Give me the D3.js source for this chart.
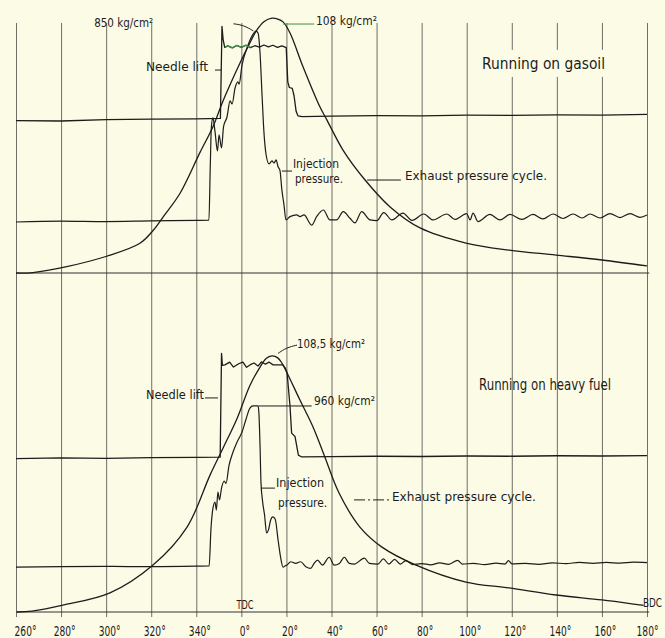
<!DOCTYPE html>
<html><head><meta charset="utf-8">
<script src="https://cdn.jsdelivr.net/npm/d3@7"></script>
<style>
html,body{margin:0;padding:0;background:#fcfbe6;}
svg{display:block;}
text{font-family:"Liberation Sans Narrow","DejaVu Sans Condensed","Roboto Condensed","DejaVu Sans",sans-serif;fill:#1c1c1c;}
</style></head><body>
<svg id="c" width="665" height="638"></svg>
<script>
// Crank angle (degrees relative to TDC; 260° = -100)
const tickDegrees = [-100,-80,-60,-40,-20,0,20,40,60,80,100,120,140,160,180];
const tickLabels = ["260°","280°","300°","320°","340°","0°","20°","40°","60°","80°","100°","120°","140°","160°","180°"];

// ---- Running on gasoil: [crank angle, trace height (kg/cm² scale units)]
const gasCylinder = [[-100,0],[-92.5,0.2],[-77.5,2.7],[-59.8,7.1],[-45,12.6],[-39.1,18.1],[-34.6,23.9],[-27.2,33.8],[-18.4,51],[-12.6,62],[-8.1,73],[-0.6,89],[3.5,97],[6.9,103],[10,106.5],[13.6,108],[16.2,107.6],[18.5,106.4],[21.6,101.7],[27.4,87.3],[34.9,70.3],[38,64.8],[45.1,52.1],[54.9,39.4],[66,28.0],[79.3,19.1],[99.7,12.7],[118.8,9.7],[139.6,7.6],[160,5.5],[180,3.0]];
const gasNeedle = [[-100,64.6],[-80,64.4],[-60,65.0],[-40,65.2],[-20,65.3],[-9.3,65.5],[-8.6,104.5],[-8.1,99],[-7.4,95.6],[-6,96.2],[-4,95.4],[-2,96.4],[0,95.6],[2,96.5],[4,95.5],[6,96.3],[8,95.7],[10,96.6],[12,95.8],[14,96.5],[16,95.6],[18,96.2],[19.9,95.5],[20.6,81],[21.3,78.6],[22.6,78.2],[23.4,75],[24.3,68.5],[25.1,66.6],[27,66.3],[40,66.5],[60,66.7],[80,66.6],[100,66.9],[120,66.8],[140,67.0],[160,66.9],[180,67.2]];
const gasInjection = [[-100,21.6],[-80,22.0],[-60,21.8],[-40,22.1],[-20,22.3],[-14.4,22.4],[-13.8,45],[-13.3,62],[-12.6,65.7],[-11.7,60],[-10.6,51.7],[-9.9,58.5],[-8.8,53],[-7.9,62],[-6.4,66],[-5.0,72.9],[-4.1,71.6],[-2.8,78.4],[-1.5,81],[-1.0,80],[0.3,88.1],[2.5,95.3],[4.7,100.4],[6.5,102.5],[7.4,101.7],[8.3,93],[9.2,75],[10.0,60],[11.0,50],[12.3,46.2],[13.6,47.5],[14.5,46.6],[15.4,47.9],[16.3,45],[17.1,43.6],[18.0,35],[18.9,29],[19.8,22.5],[21.6,23.9],[24.6,24.6],[26.0,23.9],[27.8,24.6],[31.2,20.3],[33.4,23.9],[36.4,26.7],[39.3,22.5],[42.3,22.5],[45.2,26.0],[48.2,23.2],[50.4,21.2],[53.4,26.0],[57.1,22.5],[60.1,22.2],[63.2,25.6],[66.8,22.5],[71.7,25.4],[75.7,22.3],[81.0,25.0],[85.0,22.5],[91.2,25.0],[94.8,22.7],[100.0,25.2],[101.5,22.5],[102.8,25.4],[105.0,21.8],[110.3,24.8],[114.8,22.5],[119.2,24.8],[124.5,22.7],[129.4,24.8],[133.8,22.9],[138.3,25.0],[142.7,23.1],[147.2,25.0],[151.2,23.3],[154.7,25.0],[159.2,23.3],[163.6,25.2],[168.0,23.5],[172.5,25.2],[176.9,23.6],[180,24.6]];

// ---- Running on heavy fuel
const hfCylinder = [[-99.6,0],[-92.9,0.4],[-78.7,3.0],[-58.3,8.1],[-39.2,19.9],[-24.1,36],[-13.9,58],[-8.1,69.5],[-1.9,82],[3.8,96],[8.3,103.8],[11,107.4],[13.6,108.5],[16,107.8],[18.0,105.5],[20.3,101.3],[26.0,89.8],[31.8,78.4],[37,65.8],[43.4,50.3],[52.6,36.0],[62.4,27.5],[77.5,19.9],[99.7,12.7],[118.8,10.2],[139.6,7.2],[160,5.1],[176.9,3.0],[178.5,2.8]];
const hfNeedle = [[-100,65.0],[-80,65.3],[-60,65.1],[-40,65.4],[-20,65.5],[-9.4,65.6],[-8.8,109.6],[-8.4,104.5],[-7.3,104.7],[-5.2,105.9],[-3.5,103.8],[-1.0,105.3],[0.7,105.9],[2.3,103.7],[4.0,104.8],[5.6,105.5],[7.4,104.2],[8.9,106],[10.7,105.0],[12.2,105.9],[14.1,104.7],[16.4,104.7],[18.4,104.7],[19.5,103.3],[20.3,101.3],[21.6,87.1],[22.3,75.8],[23.8,74.4],[25.3,66.5],[26.8,65.7],[40,65.8],[60,66.0],[80,65.9],[100,66.1],[120,66.0],[140,66.2],[160,66.1],[180,66.3]];
const hfInjection = [[-100,19.0],[-80,19.2],[-60,19.3],[-40,19.2],[-20,19.4],[-14.3,19.5],[-13.5,35],[-12.6,44],[-11.7,46.6],[-11.1,43.2],[-10.4,50.8],[-9.7,47.5],[-8.8,52.5],[-7.6,55.5],[-6.8,54.5],[-5.5,62],[-3.7,67.8],[-1.9,72],[0.3,76.3],[2.1,81.8],[3.8,86.4],[5.2,87.3],[7.4,87.3],[7.8,84],[8.3,70],[8.7,55],[9.4,47],[10.3,41],[11.2,33.5],[12.0,34.7],[13.0,39],[13.9,40.3],[15.0,39.4],[16.3,30.5],[17.4,23.3],[18.5,19.0],[19.5,19.6],[20.3,19.9],[21.9,21.3],[24.1,20.6],[26.3,21.3],[28.6,19.2],[30.8,18.5],[32.3,20.6],[33.8,22.0],[36.0,19.9],[39.0,23.2],[41.2,19.9],[43.5,20.6],[45.7,23.2],[47.9,20.6],[50.1,20.3],[54.6,22.8],[56.8,20.6],[60.6,20.3],[63.0,22.5],[65.5,20.3],[68.0,22.3],[70.5,20.3],[73.0,21.8],[76.0,20.1],[80,20.5],[84,20.0],[88,20.8],[92,20.2],[96,21.9],[98,20.3],[103,20.6],[108,20.1],[113,20.7],[117,20.3],[118.5,21.8],[120,20.4],[126,20.6],[132,20.2],[138,20.8],[144,20.5],[150,21.0],[156,20.6],[162,21.0],[168,20.7],[174,21.1],[180,20.9]];

// ---- annotations (text, crank angle, height)
const gasLabels = [
  {t:"850 kg/cm²", d:-65.3, v:106.4, len:59, size:13},
  {t:"108 kg/cm²", d:33.1, v:107.2, len:61, size:13},
  {t:"Needle lift", d:-42.3, v:87.3, len:62, size:12},
  {t:"Injection", d:22.9, v:46.3, len:46, size:11.5},
  {t:"pressure.", d:23.8, v:40.0, len:48, size:11.5},
  {t:"Exhaust pressure cycle.", d:72.6, v:41.5, len:142, size:13},
  {t:"Running on gasoil", d:106.8, v:89, len:123, size:16.5, title:true}
];
const hfLabels = [
  {t:"108,5 kg/cm²", d:24.7, v:114, len:68, size:13},
  {t:"Needle lift", d:-42.3, v:91.9, len:58, size:12},
  {t:"960 kg/cm²", d:32.2, v:89.8, len:61, size:13},
  {t:"Injection", d:15.4, v:54.9, len:48, size:12},
  {t:"pressure.", d:16.3, v:46.4, len:49, size:12},
  {t:"Exhaust pressure cycle.", d:66.8, v:49.2, len:144, size:13},
  {t:"Running on heavy fuel", d:105.5, v:96.6, len:132, size:16.5},
  {t:"TDC", d:-2.2, v:3.0, len:17, size:12},
  {t:"BDC", d:178.2, v:3.8, len:19, size:12}
];
const gasLeaders = [
  {p:[[-3.5,105.6],[1,105.0],[5.3,102.6]]},
  {p:[[18.5,105.5],[32.3,105.5]], green:true},
  {p:[[-11.7,86],[-9.0,86]]},
  {p:[[18.0,43.2],[22.5,43.2]]},
  {p:[[55.8,39.4],[70.8,39.4]]}
];
const hfLeaders = [
  {p:[[16.3,109.6],[20,112],[24.7,113.1]]},
  {p:[[-16.1,90.7],[-10.4,90.7]]},
  {p:[[7.6,87.3],[31.2,87.3]]},
  {p:[[8.7,52.5],[14.9,52.5]]},
  {p:[[50,47.5],[66,47.5]], dash:"11 3 2 3"}
];
const panelBase = [[-100,0],[181,0]];

// ---------------- drawing ----------------
const W = 665, H = 638;
const paper = "#fcfbe6", ink = "#1c1c1c";
const svg = d3.select("#c");
svg.append("rect").attr("width", W).attr("height", H).attr("fill", paper);

const x = d3.scaleLinear().domain([-100, 180]).range([16, 647]);
const yGas = d3.scaleLinear().domain([0, 110]).range([273, 273 - 110 * 2.36]);
const yHf = d3.scaleLinear().domain([0, 110]).range([612, 612 - 110 * 2.36]);
const gridTop = 23, gridBottom = 617;

const axis = d3.axisBottom(x).tickValues(tickDegrees)
  .tickFormat((d, i) => tickLabels[i])
  .tickSizeInner(-(gridBottom - gridTop)).tickSizeOuter(0).tickPadding(9.5);
const gAx = svg.append("g").attr("transform", `translate(0,${gridBottom})`).call(axis);
gAx.select(".domain").remove();
gAx.selectAll(".tick line").attr("stroke", "#4a4a46").attr("stroke-width", 0.8);
gAx.selectAll(".tick text").attr("font-size", 13.5).attr("fill", ink)
  .attr("textLength", (d, i) => (tickLabels[i].length - 1) * 5.8 + 4.5)
  .attr("lengthAdjust", "spacingAndGlyphs")
  .attr("dx", (d, i) => i === 0 ? 9 : (i === tickLabels.length - 1 ? 0 : 3));

function panel(y, cyl, needle, inj, labels, leaders) {
  const g = svg.append("g");
  const lin = d3.line().x(d => x(d[0])).y(d => y(d[1]));
  g.append("path").attr("d", lin(panelBase)).attr("fill", "none").attr("stroke", "#333").attr("stroke-width", 1);
  const back = g.append("g");
  const traces = g.append("g").attr("fill", "none").attr("stroke", ink).attr("stroke-linejoin", "round");
  traces.append("path").attr("d", d3.line().x(d => x(d[0])).y(d => y(d[1])).curve(d3.curveCatmullRom.alpha(0.5))(cyl)).attr("stroke-width", 1.3);
  traces.append("path").attr("d", lin(needle)).attr("stroke-width", 1.3);
  traces.append("path").attr("d", d3.line().x(d => x(d[0])).y(d => y(d[1])).curve(d3.curveMonotoneX)(inj)).attr("stroke-width", 1.2);
  leaders.forEach(l => {
    const c = l.p.length > 2 ? d3.curveBasis : d3.curveLinear;
    g.append("path").attr("d", d3.line().x(d => x(d[0])).y(d => y(d[1])).curve(c)(l.p))
      .attr("fill", "none").attr("stroke", l.green ? "#3d8f45" : ink).attr("stroke-width", 1)
      .attr("stroke-dasharray", l.dash || null);
  });
  labels.forEach(L => {
    const t = g.append("text").attr("x", x(L.d)).attr("y", y(L.v) + L.size * 0.36)
      .attr("font-size", L.size).attr("textLength", L.len).attr("lengthAdjust", "spacingAndGlyphs").text(L.t);
    if (L.title) {
      const b = t.node().getBBox();
      back.append("rect").attr("x", b.x - 3).attr("y", b.y - 4).attr("width", b.width + 6).attr("height", b.height + 8).attr("fill", paper);
    }
  });
  return g;
}
const gGas = panel(yGas, gasCylinder, gasNeedle, gasInjection, gasLabels, gasLeaders);
// green tint of the scanned needle plateau
gGas.append("path").attr("d", d3.line().x(d => x(d[0])).y(d => yGas(d[1]))(gasNeedle.filter(d => d[0] >= -7.4 && d[0] <= 4)))
  .attr("fill", "none").attr("stroke", "#3d8f45").attr("stroke-width", 1.2);
panel(yHf, hfCylinder, hfNeedle, hfInjection, hfLabels, hfLeaders);
</script>
</body></html>
